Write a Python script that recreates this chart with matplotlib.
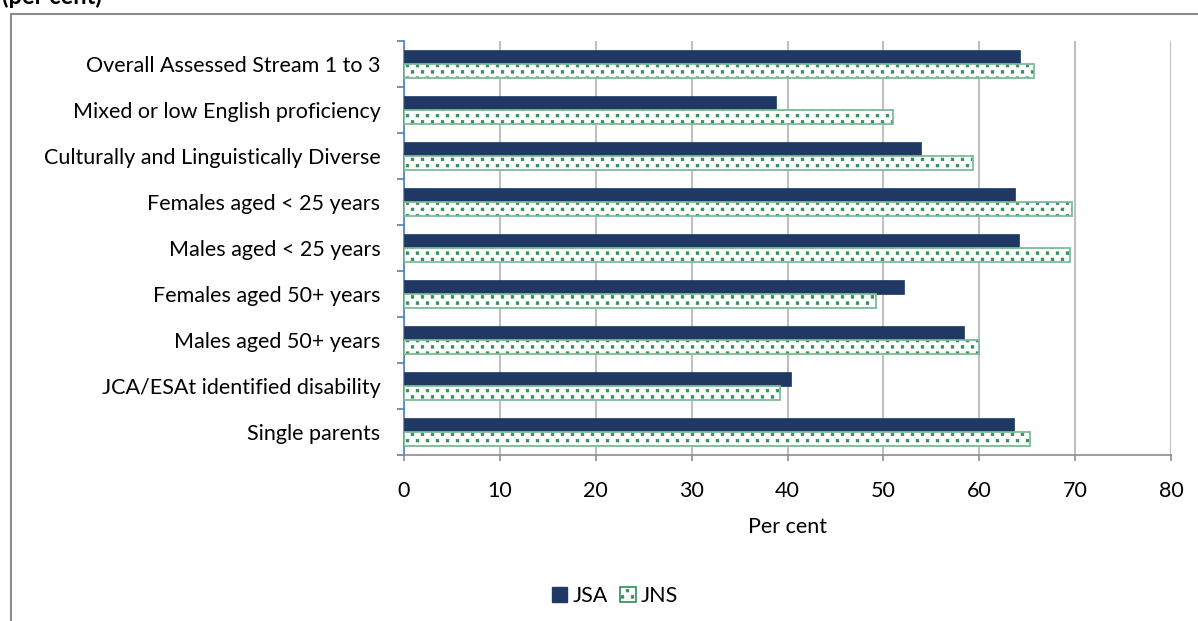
import numpy as np
import matplotlib
matplotlib.use('Agg')
import matplotlib.pyplot as plt
import matplotlib.hatch as mhatch
from matplotlib.path import Path
from matplotlib.patches import Rectangle

# -----------------------------
# Data: share of job seekers (per cent)
# -----------------------------
categories = [
    'Overall Assessed Stream 1 to 3',
    'Mixed or low English proficiency',
    'Culturally and Linguistically Diverse',
    'Females aged < 25 years',
    'Males aged < 25 years',
    'Females aged 50+ years',
    'Males aged 50+ years',
    'JCA/ESAt identified disability',
    'Single parents',
]
jsa = [64.3, 38.8, 53.9, 63.7, 64.1, 52.2, 58.4, 40.4, 63.6]
jns = [65.7, 51.0, 59.3, 69.7, 69.5, 49.2, 60.0, 39.2, 65.3]
x_ticks = [0, 10, 20, 30, 40, 50, 60, 70, 80]

navy = '#1F3864'
green = '#2E8B57'
light_green = '#7DBB98'
blue_axis = '#4F81BD'
grid_grey = '#C0C0C0'
fs = 15.5


# '.' hatch drawn as staggered small squares instead of round dots
class SquareDots(mhatch.HatchPatternBase):
    n_cols, n_rows, side = 10, 16, 0.026

    def __init__(self, hatch, density):
        self.n_shapes = self.n_cols * self.n_rows if '.' in hatch else 0
        self.num_vertices = self.n_shapes * 5

    def set_vertices_and_codes(self, vertices, codes):
        sq = Path.unit_rectangle()
        parts, code_parts = [], []
        for r in range(self.n_rows):
            yy = (r + 0.5) / self.n_rows
            for c in range(self.n_cols):
                xx = (c + 0.25 + 0.5 * (r % 2)) / self.n_cols
                parts.append((sq.vertices - 0.5) * self.side + [xx, yy])
                code_parts.append(sq.codes)
        np.concatenate(parts, out=vertices)
        np.concatenate(code_parts, out=codes)


mhatch._hatch_types = [SquareDots if t is mhatch.SmallFilledCircles else t
                       for t in mhatch._hatch_types]

plt.rcParams['font.family'] = ['Lato', 'DejaVu Sans']
plt.rcParams['hatch.linewidth'] = 0.5

fig = plt.figure(figsize=(11.98, 6.21), dpi=100)
ax = fig.add_axes([404 / 1198, 1 - 455 / 621, 767 / 1198, 414 / 621])

# outer chart frame
fig.patches.append(Rectangle((10.5 / 1198, -0.05), 1.2, 1 - 13.5 / 621 + 0.05,
                             transform=fig.transFigure, fill=False,
                             edgecolor='#8C8C8C', linewidth=1.5))
fig.text(2 / 1198, 1 - 4 / 621, '(per cent)', fontsize=17, fontweight='bold',
         va='baseline', ha='left')

y = np.arange(len(categories))
h = 0.304
ax.barh(y - h / 2, jsa, height=h, color=navy, edgecolor=navy, linewidth=0.5, zorder=3)
# dotted fill for JNS, then a lighter outline on top
ax.barh(y + h / 2, jns, height=h, color='white', edgecolor=green, hatch='.',
        linewidth=0, zorder=3)
ax.barh(y + h / 2, jns, height=h, fill=False, edgecolor=light_green,
        linewidth=1.3, zorder=4)

ax.set_xlim(0, 80)
ax.set_ylim(len(categories) - 0.5, -0.5)
ax.set_xticks(x_ticks)
ax.set_xticklabels([str(t) for t in x_ticks], fontsize=fs)
ax.set_yticks(y)
ax.set_yticklabels(categories, fontsize=fs)
ax.set_yticks(np.arange(len(categories) + 1) - 0.5, minor=True)
ax.tick_params(axis='y', which='major', length=0, pad=17)
ax.tick_params(axis='y', which='minor', length=5, width=1.2, color=blue_axis, direction='out')
ax.tick_params(axis='x', length=4.5, width=1.2, color='#8C8C8C', pad=14.5)

ax.grid(axis='x', color=grid_grey, linewidth=1.5, zorder=0)
ax.set_axisbelow(True)
for side in ['top', 'right']:
    ax.spines[side].set_visible(False)
ax.spines['left'].set_color(blue_axis)
ax.spines['left'].set_linewidth(1.2)
ax.spines['bottom'].set_color('#8C8C8C')
ax.spines['bottom'].set_linewidth(1.2)

ax.set_xlabel('Per cent', fontsize=fs, labelpad=11)

handles = [
    Rectangle((0, 0), 1, 1, facecolor=navy, edgecolor=navy),
    Rectangle((0, 0), 1, 1, facecolor='white', edgecolor=green, hatch='.', linewidth=1.2),
]
fig.legend(handles, ['JSA', 'JNS'], loc='center', bbox_to_anchor=(615 / 1198, 1 - 596 / 621),
           ncol=2, frameon=False, fontsize=fs, handlelength=0.7, handleheight=0.7,
           handletextpad=0.25, columnspacing=0.6)

fig.savefig('out.png', dpi=100)
